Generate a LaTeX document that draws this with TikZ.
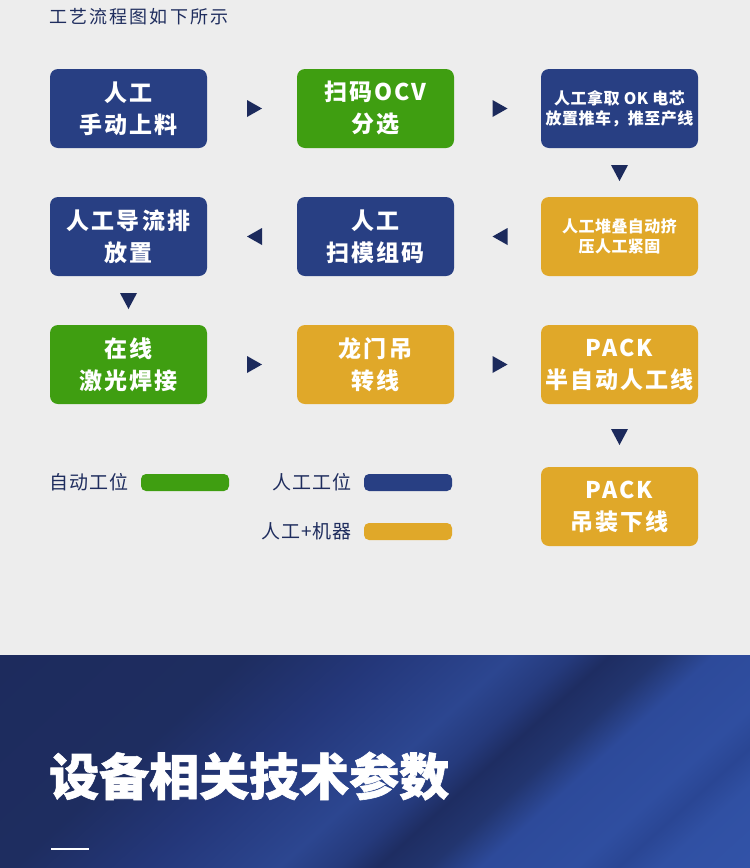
\documentclass[tikz,border=0pt]{standalone}
\usepackage{fontspec}
\setmainfont{Noto Sans CJK SC}
\newfontfamily\heavyfont{Noto Sans CJK SC}[FakeBold=1.2]
\usetikzlibrary{calc}
\definecolor{bg}{HTML}{EDEDED}
\definecolor{navy}{HTML}{1F2D5E}
\definecolor{arrowc}{HTML}{1C2A5C}
\definecolor{bluebox}{HTML}{283F83}
\definecolor{greenbox}{HTML}{3F9E11}
\definecolor{goldbox}{HTML}{E0A829}
\definecolor{b0}{HTML}{1D2B5D}
\definecolor{b1}{HTML}{1E2D60}
\definecolor{b2}{HTML}{24377A}
\definecolor{b3}{HTML}{2C4690}
\definecolor{b4}{HTML}{253A7C}
\definecolor{b5}{HTML}{1E2D62}
\definecolor{b6}{HTML}{22356F}
\definecolor{b7}{HTML}{2D4A9A}
\definecolor{b8}{HTML}{2F4EA0}
\definecolor{b9}{HTML}{2A4694}
\definecolor{b10}{HTML}{3050A3}
\definecolor{b11}{HTML}{3253A8}
\pgfdeclarehorizontalshading{streak}{100bp}{color(0bp)=(b0); color(25bp)=(b0); color(37.7bp)=(b1); color(44.4bp)=(b2); color(51.1bp)=(b3); color(54.1bp)=(b4); color(56bp)=(b5); color(58.6bp)=(b6); color(61.2bp)=(b7); color(66bp)=(b8); color(68.1bp)=(b9); color(70.2bp)=(b10); color(75bp)=(b11); color(100bp)=(b11)}
\tikzset{
  box/.style={rounded corners=8pt, minimum width=157pt, minimum height=79pt, inner sep=0pt, text=white, align=center},
  bigtxt/.style={font=\fontsize{23}{32}\selectfont\bfseries\addfontfeature{LetterSpace=9}},
  smalltxt/.style={font=\fontsize{16}{20}\selectfont\bfseries\addfontfeature{LetterSpace=3}},
  legbar/.style={rounded corners=5pt, minimum width=88pt, minimum height=17pt, inner sep=0pt},
  legtxt/.style={inner sep=0pt, text=navy, font=\fontsize{19}{22}\selectfont\addfontfeature{LetterSpace=5}},
  rarr/.pic={\fill[arrowc] (-5,-8.5) -- (10,0) -- (-5,8.5) -- cycle;},
  larr/.pic={\fill[arrowc] (10,-8.5) -- (-5,0) -- (10,8.5) -- cycle;},
  darr/.pic={\fill[arrowc] (-8.5,-7.5) -- (8.5,-7.5) -- (0,8.5) -- cycle;}
}
\begin{document}
\begin{tikzpicture}[x=1pt,y=-1pt]
\useasboundingbox (0,0) rectangle (750,868);
\fill[bg] (0,0) rectangle (750,655);
\begin{scope}
  \clip (0,655) rectangle (750,868);
  \begin{scope}[transform canvas={rotate=-47.8}]
    \shade[shading=streak] (480,-200) rectangle (1150,700);
  \end{scope}
\end{scope}

\node[anchor=west, inner sep=0pt, text=navy, font=\fontsize{18}{20}\selectfont\addfontfeature{LetterSpace=12}] (title) at (49,17) {工艺流程图如下所示};

\node[box, bigtxt, fill=bluebox] (n1) at (128.5,108.5) {人工\\手动上料};
\node[box, bigtxt, fill=greenbox] (n2) at (375.5,108.5) {扫码OCV\\分选};
\node[box, smalltxt, fill=bluebox] (n3) at (619.5,108.5) {人工拿取 OK 电芯\\放置推车，推至产线};
\node[box, smalltxt, fill=goldbox] (n4) at (619.5,236.5) {人工堆叠自动挤\\压人工紧固};
\node[box, bigtxt, fill=bluebox] (n5) at (375.5,236.5) {人工\\扫模组码};
\node[box, bigtxt, fill=bluebox] (n6) at (128.5,236.5) {人工导流排\\放置};
\node[box, bigtxt, fill=greenbox] (n7) at (128.5,364.5) {在线\\激光焊接};
\node[box, bigtxt, fill=goldbox] (n8) at (375.5,364.5) {龙门吊\\转线};
\node[box, bigtxt, fill=goldbox] (n9) at (619.5,364.5) {PACK\\半自动人工线};
\node[box, bigtxt, fill=goldbox] (n10) at (619.5,506.5) {PACK\\吊装下线};

\pic at ($(n1.east)!0.5!(n2.west)$) {rarr};
\pic at ($(n2.east)!0.5!(n3.west)$) {rarr};
\pic at ($(n3.south)!0.5!(n4.north)$) {darr};
\pic at ($(n5.east)!0.5!(n4.west)$) {larr};
\pic at ($(n6.east)!0.5!(n5.west)$) {larr};
\pic at ($(n6.south)!0.5!(n7.north)$) {darr};
\pic at ($(n7.east)!0.5!(n8.west)$) {rarr};
\pic at ($(n8.east)!0.5!(n9.west)$) {rarr};
\pic at ($(n9.south)!0.5!(n10.north)+(0,1)$) {darr};

\node[legtxt, anchor=west] (l1t) at (49,482) {自动工位};
\node[legbar, fill=greenbox] (l1) at (185,482.5) {};
\node[legtxt, anchor=east] (l2t) at (352,482) {人工工位};
\node[legbar, fill=bluebox] (l2) at (408,482.5) {};
\node[legtxt, anchor=east] (l3t) at (352,531) {人工+机器};
\node[legbar, fill=goldbox] (l3) at (408,531.5) {};

\node[anchor=west, inner sep=0pt, text=white, font=\heavyfont\bfseries\fontsize{50}{60}\selectfont] (sect) at (49,776) {设备相关技术参数};
\coordinate (u1) at (51,849);
\coordinate (u2) at (89,849);
\draw[white, line width=2pt] (u1) -- (u2);
\end{tikzpicture}
\end{document}
